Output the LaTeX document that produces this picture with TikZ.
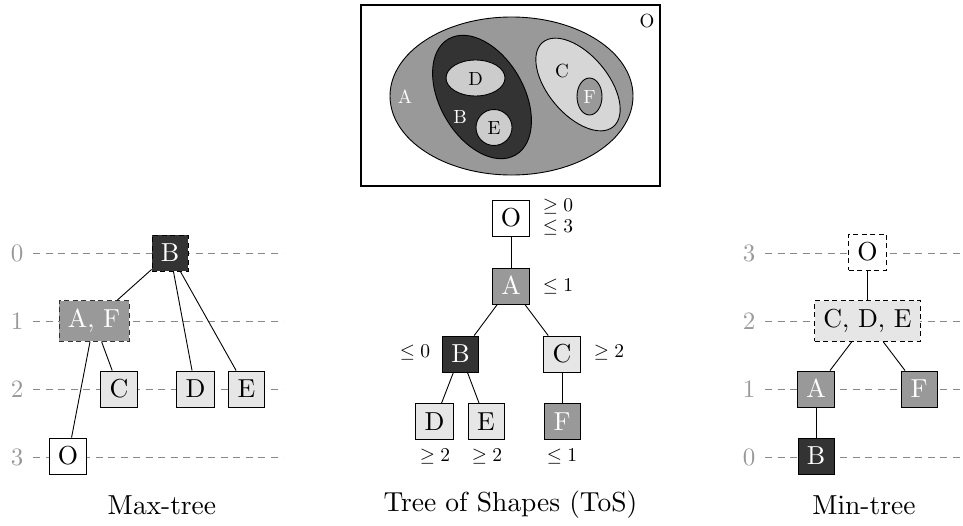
\documentclass[tikz,border=0pt]{standalone}
\usepackage{amssymb}
\usepackage{graphicx}
\font\boxf=cmr10 at 26pt
\font\lvlf=cmr10 at 25pt
\font\regf=cmr10 at 19pt
\font\capf=cmr10 at 27.5pt
\newcommand\cnd[1]{\scalebox{1.95}{$#1$}}
\begin{document}
\begin{tikzpicture}[x=1pt,y=1pt,
  bx/.style={draw=black,line width=0.9pt,minimum width=36pt,minimum height=36pt,inner sep=8.8pt,font=\boxf},
  dk/.style={bx,fill=gD,text=white},
  md/.style={bx,fill=gM,text=white},
  lt/.style={bx,fill=gL},
  wh/.style={bx,fill=white},
  dsh/.style={dash pattern=on 5pt off 3.5pt},
  lvl/.style={text=gM,font=\lvlf},
  lvline/.style={draw=gline,line width=0.8pt,dash pattern=on 7pt off 5.5pt},
  edge/.style={line width=0.9pt},
  cond/.style={inner sep=1pt},
  captext/.style={font=\capf},
  reg/.style={draw=black,line width=0.9pt},
  rlbl/.style={font=\regf}
]
\definecolor{gD}{HTML}{333333}
\definecolor{gM}{HTML}{999999}
\definecolor{gL}{HTML}{E6E6E6}
\definecolor{gR}{HTML}{CCCCCC}
\definecolor{gline}{HTML}{888888}
\useasboundingbox (0,0) rectangle (963,-525);

% ---------- top region picture ----------
\draw[line width=1.1pt] (361,-5) rectangle (660,-186);
\draw[reg,fill=gM] (511.5,-96) ellipse [x radius=121.5pt, y radius=79pt];
\draw[reg,fill=gD] (482,-97) ellipse [x radius=67pt, y radius=42pt, rotate=-60];
\draw[reg,fill=gR] (475.5,-78) ellipse [x radius=29.5pt, y radius=18pt];
\draw[reg,fill=gR] (494,-127.5) circle [radius=18pt];
\draw[reg,fill=gR!80!white] (578,-84.5) ellipse [x radius=55pt, y radius=30pt, rotate=-50];
\draw[reg,fill=gM] (589.5,-96.5) ellipse [x radius=12.5pt, y radius=18.5pt];
\node[rlbl] (rO) at (647,-21) {O};
\node[rlbl,text=white] (rA) at (405,-97) {A};
\node[rlbl,text=white] (rB) at (460,-117) {B};
\node[rlbl] (rC) at (562,-71) {C};
\node[rlbl] (rD) at (475.5,-79) {D};
\node[rlbl] (rE) at (494,-128.5) {E};
\node[rlbl,text=white] (rF) at (589.5,-97.5) {F};

% ---------- Max-tree ----------
\foreach \l/\y in {0/253,1/321,2/389,3/457}{
  \node[lvl] (mxl\l) at (17,-\y) {\l};
  \coordinate (mxs\l) at (33,-\y);
  \coordinate (mxe\l) at (283,-\y);
  \draw[lvline] (mxs\l) -- (mxe\l);
}
\node[dk,dsh] (mB) at (170,-253) {B};
\node[md,dsh,draw=gD] (mAF) at (94,-321) {A, F};
\node[lt] (mC) at (119,-389) {C};
\node[lt] (mD) at (195.5,-389) {D};
\node[lt] (mE) at (246.5,-389) {E};
\node[wh] (mO) at (68,-456) {O};
\draw[edge] (mB) -- (mAF);
\draw[edge] (mB) -- (mD);
\draw[edge] (mB) -- (mE);
\draw[edge] (mAF) -- (mC);
\draw[edge] (mAF) -- (mO);
\node[captext] (capmax) at (162,-505) {Max-tree};

% ---------- Tree of Shapes ----------
\node[wh] (tO) at (511,-218) {O};
\node[md] (tA) at (511,-286) {A};
\node[dk] (tB) at (460.5,-354) {B};
\node[lt] (tC) at (562,-354) {C};
\node[lt] (tD) at (434.5,-421.5) {D};
\node[lt] (tE) at (486,-421.5) {E};
\node[md] (tF) at (562,-421.5) {F};
\draw[edge] (tO) -- (tA);
\draw[edge] (tA) -- (tB);
\draw[edge] (tA) -- (tC);
\draw[edge] (tB) -- (tD);
\draw[edge] (tB) -- (tE);
\draw[edge] (tC) -- (tF);
\node[cond] (cO1) at (558,-207) {\cnd{\geq 0}};
\node[cond] (cO2) at (558,-228) {\cnd{\leq 3}};
\node[cond] (cA) at (558,-287) {\cnd{\leq 1}};
\node[cond] (cB) at (415,-353) {\cnd{\leq 0}};
\node[cond] (cC) at (609,-353) {\cnd{\geq 2}};
\node[cond] (cD) at (435,-457) {\cnd{\geq 2}};
\node[cond] (cE) at (487,-457) {\cnd{\geq 2}};
\node[cond] (cF) at (562,-457) {\cnd{\leq 1}};
\node[captext] (captos) at (510.5,-505) {Tree of Shapes (ToS)};

% ---------- Min-tree ----------
\foreach \l/\y in {3/253,2/321,1/389,0/457}{
  \node[lvl] (mnl\l) at (749,-\y) {\l};
  \coordinate (mns\l) at (765,-\y);
  \coordinate (mne\l) at (963,-\y);
  \draw[lvline] (mns\l) -- (mne\l);
}
\node[wh,dsh] (nO) at (867.5,-252) {O};
\node[lt,dsh] (nCDE) at (867.5,-321) {C, D, E};
\node[md] (nA) at (816,-389) {A};
\node[md] (nF) at (919,-389) {F};
\node[dk] (nB) at (816,-456) {B};
\draw[edge] (nO) -- (nCDE);
\draw[edge] (nCDE) -- (nA);
\draw[edge] (nCDE) -- (nF);
\draw[edge] (nA) -- (nB);
\node[captext] (capmin) at (864,-505) {Min-tree};
\end{tikzpicture}
\end{document}
